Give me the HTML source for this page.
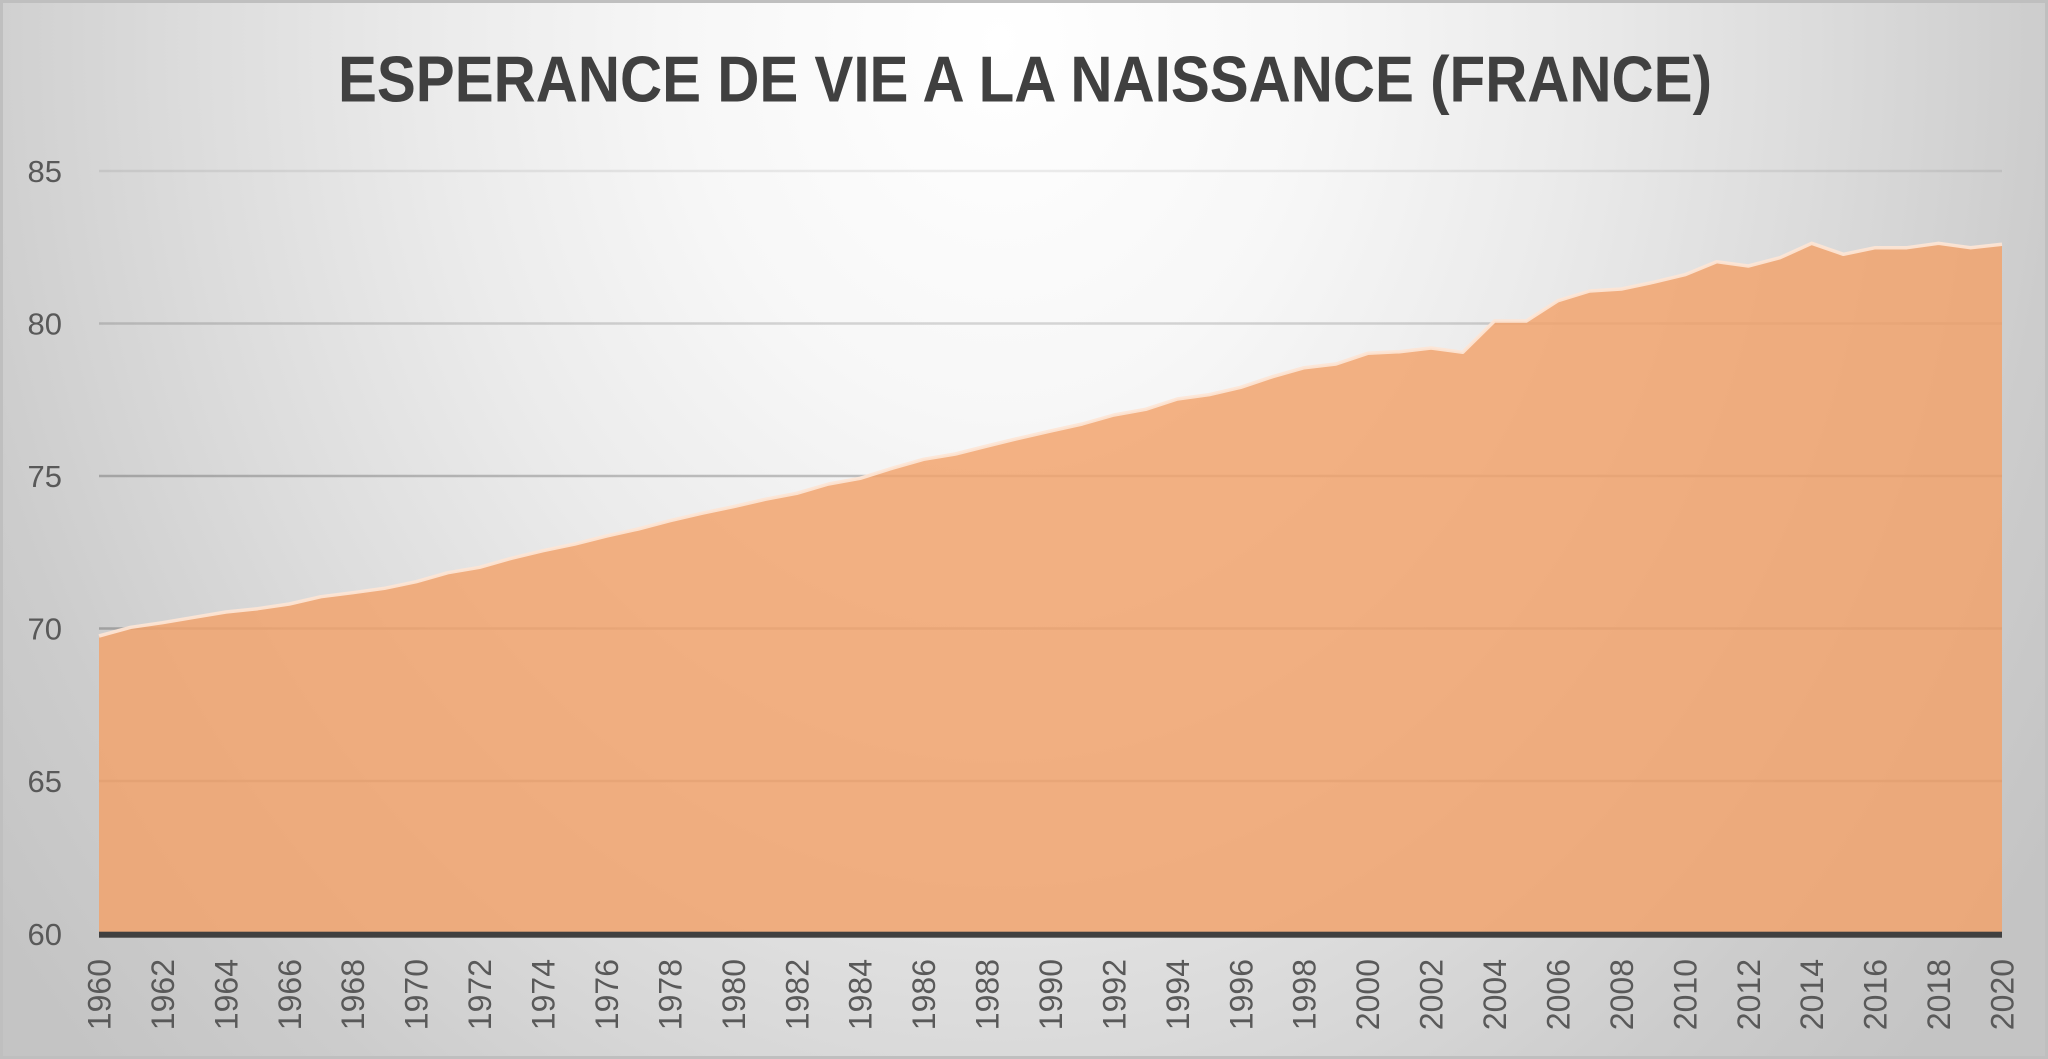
<!DOCTYPE html>
<html>
<head>
<meta charset="utf-8">
<style>
  html, body { margin: 0; padding: 0; }
  body { width: 2048px; height: 1059px; overflow: hidden; }
  #chart {
    position: relative;
    width: 2048px; height: 1059px;
    background: radial-gradient(ellipse 1250px 1500px at 1000px 40px,
      #ffffff 0%, #f7f7f7 25%, #ebebeb 45%, #dcdcdc 65%, #cccccc 85%, #c4c4c4 100%);
  }
  svg { position: absolute; left: 0; top: 0; }
  text { font-family: "Liberation Sans", Arial, sans-serif; }
</style>
</head>
<body>
<div id="chart">
<svg width="2048" height="1059" viewBox="0 0 2048 1059" xmlns="http://www.w3.org/2000/svg">
  <!-- outer border -->
  <rect x="1.5" y="1.5" width="2045" height="1056" fill="none" stroke="#bfbfbf" stroke-width="3"/>

  <!-- title -->
  <text x="338" y="101.7" font-size="65" font-weight="bold" fill="#404040" textLength="1374" lengthAdjust="spacingAndGlyphs">ESPERANCE DE VIE A LA NAISSANCE (FRANCE)</text>

  <!-- gridlines -->
  <g stroke-width="2.6">
    <line x1="99" y1="171" x2="2002" y2="171" stroke="rgba(0,0,0,0.07)"/>
    <line x1="99" y1="323.5" x2="2002" y2="323.5" stroke="rgba(0,0,0,0.15)"/>
    <line x1="99" y1="476" x2="2002" y2="476" stroke="rgba(0,0,0,0.22)"/>
    <line x1="99" y1="628.5" x2="2002" y2="628.5" stroke="rgba(0,0,0,0.22)"/>
    <line x1="99" y1="781" x2="2002" y2="781" stroke="rgba(0,0,0,0.22)"/>
  </g>

  <!-- area -->
  <path fill="rgb(242,162,107)" fill-opacity="0.83" d="M99,636 L130.7,627.3 L162.4,622.7 L194.2,617.3 L225.9,612 L257.6,608.7 L289.3,604 L321,596.7 L352.7,592.7 L384.5,588.3 L416.2,581.7 L447.9,572.7 L479.6,567.3 L511.3,558.3 L543,550.7 L574.8,544 L606.5,536 L638.2,529 L669.9,520.7 L701.6,513.3 L733.3,506.7 L765.1,499.3 L796.8,493.3 L828.5,484 L860.2,478.3 L891.9,468.3 L923.6,459.3 L955.4,454 L987.1,446 L1018.8,438.3 L1050.5,431 L1082.2,424 L1113.9,415 L1145.7,409.3 L1177.4,399 L1209.1,394.7 L1240.8,387.3 L1272.5,376.7 L1304.2,367.7 L1336,364 L1367.7,353.3 L1399.4,351.7 L1431.1,348 L1462.8,352.3 L1494.5,321 L1526.3,321 L1558,300.7 L1589.7,291 L1621.4,289 L1653.1,282.3 L1684.9,274.7 L1716.6,261.7 L1748.3,266 L1780,257.7 L1811.7,243.3 L1843.4,254.3 L1875.2,247.7 L1906.9,247.7 L1938.6,243.3 L1970.3,247.7 L2002,244.3 L2002,932 L99,932 Z"/>
  <!-- top outline -->
  <path fill="none" stroke="#fde5d5" stroke-opacity="0.92" stroke-width="3.5" stroke-linejoin="round" d="M99,636 L130.7,627.3 L162.4,622.7 L194.2,617.3 L225.9,612 L257.6,608.7 L289.3,604 L321,596.7 L352.7,592.7 L384.5,588.3 L416.2,581.7 L447.9,572.7 L479.6,567.3 L511.3,558.3 L543,550.7 L574.8,544 L606.5,536 L638.2,529 L669.9,520.7 L701.6,513.3 L733.3,506.7 L765.1,499.3 L796.8,493.3 L828.5,484 L860.2,478.3 L891.9,468.3 L923.6,459.3 L955.4,454 L987.1,446 L1018.8,438.3 L1050.5,431 L1082.2,424 L1113.9,415 L1145.7,409.3 L1177.4,399 L1209.1,394.7 L1240.8,387.3 L1272.5,376.7 L1304.2,367.7 L1336,364 L1367.7,353.3 L1399.4,351.7 L1431.1,348 L1462.8,352.3 L1494.5,321 L1526.3,321 L1558,300.7 L1589.7,291 L1621.4,289 L1653.1,282.3 L1684.9,274.7 L1716.6,261.7 L1748.3,266 L1780,257.7 L1811.7,243.3 L1843.4,254.3 L1875.2,247.7 L1906.9,247.7 L1938.6,243.3 L1970.3,247.7 L2002,244.3"/>

  <!-- x axis line -->
  <rect x="99" y="931.7" width="1903" height="6" fill="#404040"/>

  <!-- y labels -->
  <g font-size="31" fill="#595959" text-anchor="end">
    <text x="62" y="182">85</text>
    <text x="62" y="334.5">80</text>
    <text x="62" y="487">75</text>
    <text x="62" y="639.5">70</text>
    <text x="62" y="792">65</text>
    <text x="62" y="945">60</text>
  </g>

  <!-- x labels -->
  <g font-size="32" fill="#595959" text-anchor="end">
    <text transform="translate(110.5,959) rotate(-90)">1960</text>
    <text transform="translate(173.9,959) rotate(-90)">1962</text>
    <text transform="translate(237.4,959) rotate(-90)">1964</text>
    <text transform="translate(300.8,959) rotate(-90)">1966</text>
    <text transform="translate(364.2,959) rotate(-90)">1968</text>
    <text transform="translate(427.7,959) rotate(-90)">1970</text>
    <text transform="translate(491.1,959) rotate(-90)">1972</text>
    <text transform="translate(554.5,959) rotate(-90)">1974</text>
    <text transform="translate(618,959) rotate(-90)">1976</text>
    <text transform="translate(681.4,959) rotate(-90)">1978</text>
    <text transform="translate(744.8,959) rotate(-90)">1980</text>
    <text transform="translate(808.3,959) rotate(-90)">1982</text>
    <text transform="translate(871.7,959) rotate(-90)">1984</text>
    <text transform="translate(935.1,959) rotate(-90)">1986</text>
    <text transform="translate(998.6,959) rotate(-90)">1988</text>
    <text transform="translate(1062,959) rotate(-90)">1990</text>
    <text transform="translate(1125.4,959) rotate(-90)">1992</text>
    <text transform="translate(1188.9,959) rotate(-90)">1994</text>
    <text transform="translate(1252.3,959) rotate(-90)">1996</text>
    <text transform="translate(1315.7,959) rotate(-90)">1998</text>
    <text transform="translate(1379.2,959) rotate(-90)">2000</text>
    <text transform="translate(1442.6,959) rotate(-90)">2002</text>
    <text transform="translate(1506,959) rotate(-90)">2004</text>
    <text transform="translate(1569.5,959) rotate(-90)">2006</text>
    <text transform="translate(1632.9,959) rotate(-90)">2008</text>
    <text transform="translate(1696.4,959) rotate(-90)">2010</text>
    <text transform="translate(1759.8,959) rotate(-90)">2012</text>
    <text transform="translate(1823.2,959) rotate(-90)">2014</text>
    <text transform="translate(1886.7,959) rotate(-90)">2016</text>
    <text transform="translate(1950.1,959) rotate(-90)">2018</text>
    <text transform="translate(2013.5,959) rotate(-90)">2020</text>
  </g>
</svg>
</div>
</body>
</html>
